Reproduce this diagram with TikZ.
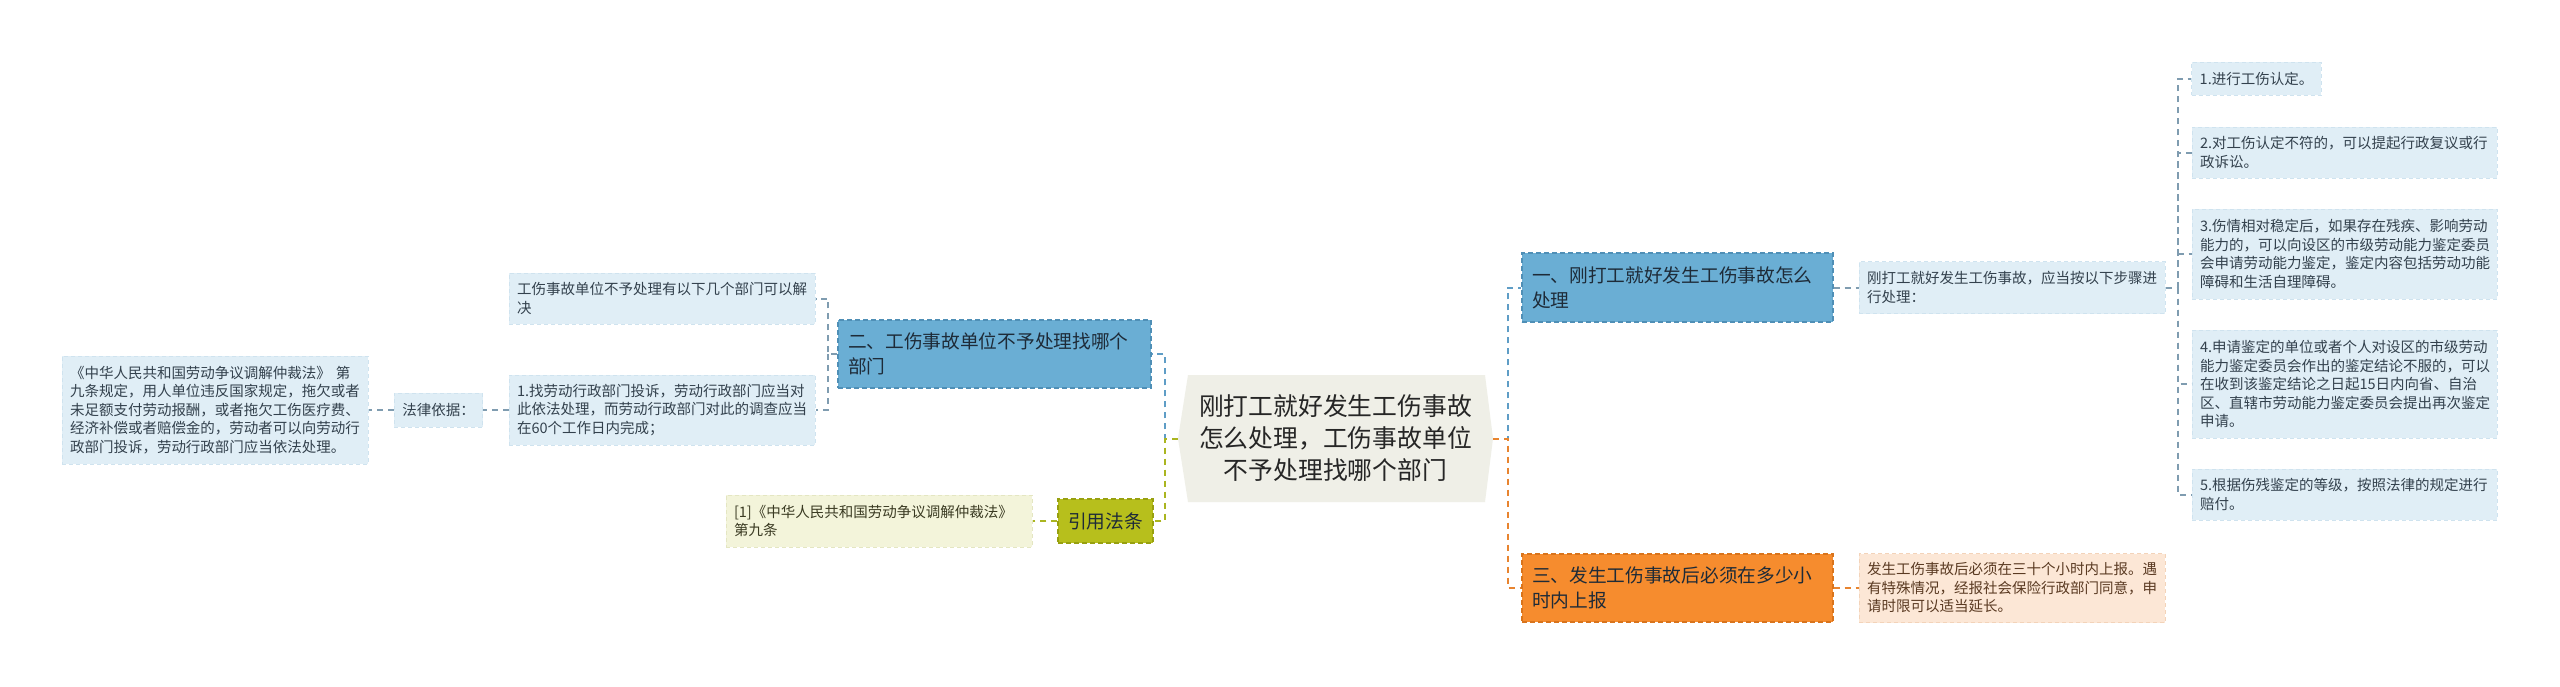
\documentclass[tikz,border=0pt]{standalone}
\usepackage{fontspec}
\setmainfont{Noto Sans CJK SC}
\usetikzlibrary{calc}
\definecolor{leafblue}{HTML}{E0EEF6}
\definecolor{leafblueb}{HTML}{CFE3EF}
\definecolor{leaftext}{HTML}{33414D}
\definecolor{lvlblue}{HTML}{6AAED4}
\definecolor{lvlblueb}{HTML}{4F8FB6}
\definecolor{lvltext}{HTML}{1E2B38}
\definecolor{lvlorange}{HTML}{F68C2E}
\definecolor{lvlorangeb}{HTML}{D9741C}
\definecolor{leaforange}{HTML}{FCE7D6}
\definecolor{leaforangeb}{HTML}{F3D3B9}
\definecolor{orangetext}{HTML}{5A3A22}
\definecolor{lvlolive}{HTML}{B7BF1C}
\definecolor{lvloliveb}{HTML}{97A010}
\definecolor{leafolive}{HTML}{F3F4DA}
\definecolor{leafoliveb}{HTML}{E4E6C2}
\definecolor{olivetext}{HTML}{3A3A22}
\definecolor{centerfill}{HTML}{EFEFE7}
\definecolor{cblue}{HTML}{5F9DC6}
\definecolor{cgray}{HTML}{7F9CB0}
\definecolor{corange}{HTML}{E8842F}
\definecolor{colive}{HTML}{AAB520}
\tikzset{
  leafb/.style={fill=leafblue, draw=leafblueb, line width=1pt, dash pattern=on 4pt off 3pt,
    text=leaftext, font=\fontsize{14.5}{18.5}\selectfont, align=left, inner xsep=8pt, inner ysep=0pt},
  leafo/.style={leafb, fill=leaforange, draw=leaforangeb, text=orangetext},
  leafl/.style={leafb, fill=leafolive, draw=leafoliveb, text=olivetext},
  lvlb/.style={fill=lvlblue, draw=lvlblueb, line width=1.2pt, dash pattern=on 5pt off 3pt,
    text=lvltext, font=\fontsize{18.7}{25}\selectfont, align=left, inner xsep=10pt, inner ysep=0pt},
  lvlo/.style={lvlb, fill=lvlorange, draw=lvlorangeb, text=lvltext},
  lvll/.style={lvlb, fill=lvlolive, draw=lvloliveb, text=lvltext, align=center, inner xsep=0pt},
  conn/.style={line width=2pt, dash pattern=on 6pt off 5pt},
}
\begin{document}
\begin{tikzpicture}[x=1pt,y=-1pt]
\useasboundingbox (0,0) rectangle (2560,686);
\fill[white] (0,0) rectangle (2560,686);

% center node
\fill[centerfill] (1188,375) -- (1485,375) -- (1493,438.5) -- (1485,502) -- (1188,502) -- (1178,438.5) -- cycle;
\node[minimum width=315pt, minimum height=127pt, inner sep=0pt, align=center, text=black!85,
  font=\fontsize{24.8}{32}\selectfont] (C) at (1335.5,438.5)
  {刚打工就好发生工伤事故\\怎么处理，工伤事故单位\\不予处理找哪个部门};

% left side
\node[lvlb, text width=293pt, minimum height=68pt] (N2) at (994.5,354) {二、工伤事故单位不予处理找哪个\\部门};
\node[leafb, text width=290pt, minimum height=51pt] (L1a) at (662,298.5) {工伤事故单位不予处理有以下几个部门可以解\\决};
\node[leafb, text width=290pt, minimum height=70pt] (L1b) at (662,410) {1.找劳动行政部门投诉，劳动行政部门应当对\\此依法处理，而劳动行政部门对此的调查应当\\在60个工作日内完成；};
\node[leafb, minimum width=87pt, minimum height=34pt] (LF) at (438.5,410) {法律依据：};
\node[leafb, text width=290pt, minimum height=108pt] (L3) at (215,410) {《中华人民共和国劳动争议调解仲裁法》 第\\九条规定，用人单位违反国家规定，拖欠或者\\未足额支付劳动报酬，或者拖欠工伤医疗费、\\经济补偿或者赔偿金的，劳动者可以向劳动行\\政部门投诉，劳动行政部门应当依法处理。};
\node[lvll, minimum width=95pt, minimum height=44pt] (R) at (1105.5,521) {引用法条};
\node[leafl, text width=290pt, minimum height=52pt] (Cite) at (879,521) {[1]《中华人民共和国劳动争议调解仲裁法》\\第九条};

% right side
\node[lvlb, text width=291pt, minimum height=69pt] (N1) at (1677.5,287.5) {一、刚打工就好发生工伤事故怎么\\处理};
\node[lvlo, text width=291pt, minimum height=68pt] (N3) at (1677.5,588) {三、发生工伤事故后必须在多少小\\时内上报};
\node[leafb, text width=290pt, minimum height=52pt] (S1) at (2012,287.5) {刚打工就好发生工伤事故，应当按以下步骤进\\行处理：};
\node[leafo, text width=290pt, minimum height=69pt] (S3) at (2012,588) {发生工伤事故后必须在三十个小时内上报。遇\\有特殊情况，经报社会保险行政部门同意，申\\请时限可以适当延长。};
\node[leafb, minimum width=129pt, minimum height=33pt] (T1) at (2256.5,78.5) {1.进行工伤认定。};
\node[leafb, text width=289pt, minimum height=51pt] (T2) at (2344.5,152.5) {2.对工伤认定不符的，可以提起行政复议或行\\政诉讼。};
\node[leafb, text width=289pt, minimum height=90pt] (T3) at (2344.5,254) {3.伤情相对稳定后，如果存在残疾、影响劳动\\能力的，可以向设区的市级劳动能力鉴定委员\\会申请劳动能力鉴定，鉴定内容包括劳动功能\\障碍和生活自理障碍。};
\node[leafb, text width=289pt, minimum height=108pt] (T4) at (2344.5,384) {4.申请鉴定的单位或者个人对设区的市级劳动\\能力鉴定委员会作出的鉴定结论不服的，可以\\在收到该鉴定结论之日起15日内向省、自治\\区、直辖市劳动能力鉴定委员会提出再次鉴定\\申请。};
\node[leafb, text width=289pt, minimum height=51pt] (T5) at (2344.5,494.5) {5.根据伤残鉴定的等级，按照法律的规定进行\\赔付。};

% junctions
\coordinate (JL) at (1165,438.5);
\coordinate (JR) at (1508,438.5);
\coordinate (J2) at (828,354);
\coordinate (JS) at (2178,287.5);

% connectors
\draw[conn, cblue] (C.west) -- (JL) |- (N2.east);
\draw[conn, colive] (C.west) -- (JL) |- (R.east);
\draw[conn, cblue] (C.east) -- (JR) |- (N1.west);
\draw[conn, corange] (C.east) -- (JR) |- (N3.west);
\draw[conn, cgray] (N2.west) -- (J2) |- (L1a.east);
\draw[conn, cgray] (J2) |- (L1b.east);
\draw[conn, cgray] (L1b.west) -- (LF.east);
\draw[conn, cgray] (LF.west) -- (L3.east);
\draw[conn, colive] (R.west) -- (Cite.east);
\draw[conn, cgray] (N1.east) -- (S1.west);
\draw[conn, corange] (N3.east) -- (S3.west);
\draw[conn, cgray] (S1.east) -- (JS) |- (T1.west);
\draw[conn, cgray] (JS) |- (T2.west);
\draw[conn, cgray] (JS) |- (T3.west);
\draw[conn, cgray] (JS) |- (T4.west);
\draw[conn, cgray] (JS) |- (T5.west);
\end{tikzpicture}
\end{document}
